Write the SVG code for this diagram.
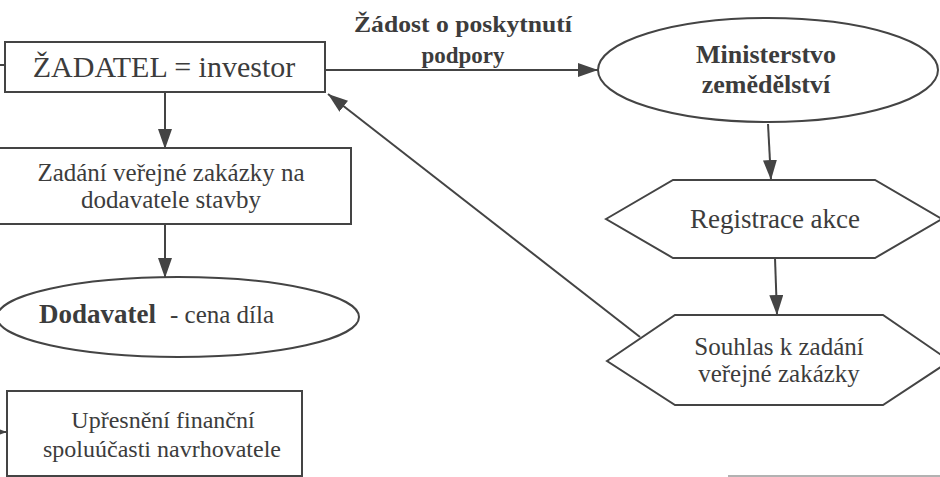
<svg xmlns="http://www.w3.org/2000/svg" width="940" height="477" viewBox="0 0 940 477">
<style>
.s{fill:#fff;stroke:#444;stroke-width:2}
.c{fill:none;stroke:#444;stroke-width:2}
.t{font-family:"Liberation Serif","Times New Roman",serif;fill:#3c3c3c;text-anchor:middle}
.b{font-weight:bold}
</style>
<defs>
<marker id="ah" viewBox="0 0 20 14" refX="20" refY="7" markerWidth="20" markerHeight="14" markerUnits="userSpaceOnUse" orient="auto">
<path d="M0,0 L20,7 L0,14 Z" fill="#444"/>
</marker>
</defs>
<rect width="940" height="477" fill="#fff"/>
<g id="connectors">
<path class="c" d="M5,65 H-20 V432 H7" marker-end="url(#ah)"/>
<path class="c" d="M325,70 H598" marker-end="url(#ah)"/>
<path class="c" d="M165,92 V149" marker-end="url(#ah)"/>
<path class="c" d="M165,224 V278" marker-end="url(#ah)"/>
<path class="c" d="M768,124 L771,180" marker-end="url(#ah)"/>
<path class="c" d="M775,258 L777,315" marker-end="url(#ah)"/>
<path class="c" d="M640,337 L328,94" marker-end="url(#ah)"/>
<text class="t b" x="463" y="32" font-size="23" textLength="218" lengthAdjust="spacingAndGlyphs">Žádost o poskytnutí</text>
<text class="t b" x="463" y="63" font-size="23">podpory</text>
</g>
<g id="zadatel">
<rect class="s" x="5" y="42" width="320" height="50"/>
<text class="t" x="164" y="77" font-size="30">ŽADATEL = investor</text>
</g>
<g id="ministerstvo">
<ellipse class="s" cx="768" cy="70" rx="170" ry="52"/>
<text class="t b" x="766" y="63" font-size="26">Ministerstvo</text>
<text class="t b" x="766" y="93" font-size="26">zemědělství</text>
</g>
<g id="zadani">
<rect class="s" x="-2" y="148" width="353" height="76"/>
<text class="t" x="171" y="181" font-size="25">Zadání veřejné zakázky na</text>
<text class="t" x="171" y="208" font-size="25">dodavatele stavby</text>
</g>
<g id="dodavatel">
<ellipse class="s" cx="178" cy="317" rx="181" ry="40"/>
<text class="t" y="323" font-size="25" text-anchor="start" style="text-anchor:start"><tspan x="39" class="b" font-size="27">Dodavatel</tspan><tspan x="170">- cena díla</tspan></text>
</g>
<g id="registrace">
<polygon class="s" points="606,219 673,180 875,180 942,219 875,258 673,258"/>
<text class="t" x="775" y="228" font-size="27">Registrace akce</text>
</g>
<g id="souhlas">
<polygon class="s" points="607,361 675,315 883,315 950,361 883,405 675,405"/>
<text class="t" x="779" y="355" font-size="25">Souhlas k zadání</text>
<text class="t" x="779" y="382" font-size="25">veřejné zakázky</text>
</g>
<g id="upresneni">
<rect class="s" x="7" y="391" width="295" height="85"/>
<text class="t" x="163" y="428" font-size="24">Upřesnění finanční</text>
<text class="t" x="162" y="457" font-size="24">spoluúčasti navrhovatele</text>
</g>
<line x1="728" y1="476" x2="940" y2="476" stroke="#999" stroke-width="1.5"/>
</svg>
